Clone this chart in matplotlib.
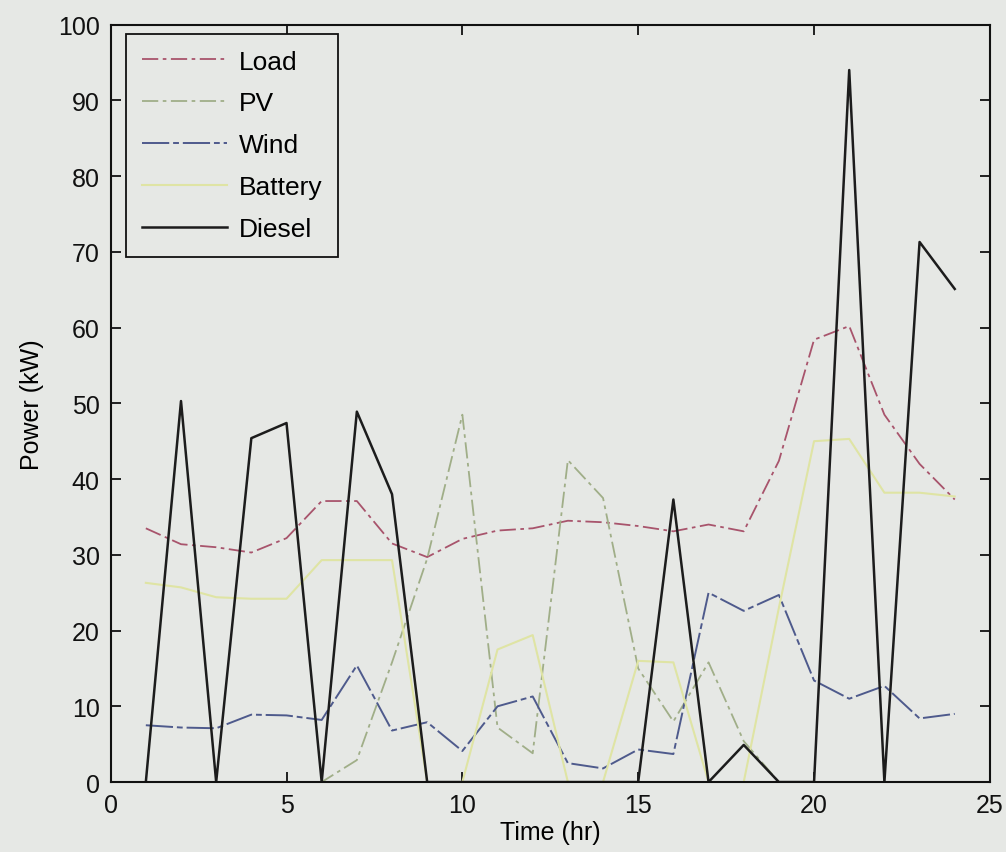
import matplotlib
matplotlib.use("Agg")
import matplotlib.pyplot as plt
import numpy as np

# Hourly dispatch (kW) for hours 1..24
hours = list(range(1, 25))
load = [33.5, 31.4, 31.0, 30.3, 32.2, 37.1, 37.1, 31.5, 29.7, 32.1, 33.2, 33.5,
        34.5, 34.3, 33.8, 33.1, 34.0, 33.1, 42.4, 58.4, 60.2, 48.5, 42.0, 37.3]
pv = [0, 0, 0, 0, 0, 0, 2.9, 15.8, 29.5, 48.5, 7.2, 3.8,
      42.5, 37.5, 15.0, 8.0, 15.8, 5.4, 0, 0, 0, 0, 0, 0]
wind = [7.5, 7.2, 7.1, 8.9, 8.8, 8.2, 15.4, 6.8, 7.9, 4.1, 10.0, 11.3,
        2.5, 1.8, 4.3, 3.7, 25.0, 22.6, 24.7, 13.4, 11.0, 12.7, 8.4, 9.0]
battery = [26.3, 25.7, 24.4, 24.2, 24.2, 29.3, 29.3, 29.3, 0, 0, 17.5, 19.4,
           0, 0, 16.0, 15.8, 0, 0, 23.0, 45.0, 45.3, 38.2, 38.2, 37.7]
diesel = [0, 50.3, 0, 45.4, 47.4, 0, 48.9, 38.0, 0, 0, 0, 0,
          0, 0, 0, 37.3, 0, 4.9, 0, 0, 94.0, 0, 71.3, 65.1]

series_names = ["Load", "PV", "Wind", "Battery", "Diesel"]
x_ticks = [0, 5, 10, 15, 20, 25]
y_ticks = [0, 10, 20, 30, 40, 50, 60, 70, 80, 90, 100]

paper = "#e6e8e5"
plt.rcParams["font.family"] = ["Liberation Sans", "DejaVu Sans"]

fig = plt.figure(figsize=(10.06, 8.53), dpi=100, facecolor=paper)
ax = fig.add_axes([0.110, 0.082, 0.874, 0.888], facecolor=paper)

dash = (0, (9, 2.5, 2, 2.5))
ax.plot(hours, load, color="#a8546c", lw=1.3, linestyle=dash, label=series_names[0])
ax.plot(hours, pv, color="#a0ae88", lw=1.3, linestyle=dash, label=series_names[1])
ax.plot(hours, wind, color="#4e5a8c", lw=1.4, linestyle=(0, (14, 2, 3, 2)), label=series_names[2])
ax.plot(hours, battery, color="#dfe4a4", lw=1.5, linestyle="-", label=series_names[3])
ax.plot(hours, diesel, color="#1c1c1c", lw=1.8, linestyle="-", label=series_names[4])

ax.set_xlim(0, 25)
ax.set_ylim(0, 100)
ax.set_xticks(x_ticks)
ax.set_yticks(y_ticks)
ax.tick_params(direction="in", length=7, width=1.3, top=True, right=True,
               labelsize=18, pad=8, colors="#111111")
for sp in ax.spines.values():
    sp.set_linewidth(1.5)
    sp.set_color("#111111")

ax.set_xlabel("Time (hr)", fontsize=18, labelpad=2)
ax.set_ylabel("Power (kW)", fontsize=18, labelpad=10)

leg = ax.legend(loc="upper left", bbox_to_anchor=(0.018, 0.988), borderaxespad=0,
                fontsize=19, frameon=True, fancybox=False, edgecolor="#111111",
                facecolor=paper, framealpha=1.0, handlelength=3.2,
                handletextpad=0.45, labelspacing=0.68, borderpad=0.6)
leg.get_frame().set_linewidth(1.3)

fig.savefig("out.png", dpi=100, facecolor=paper)
